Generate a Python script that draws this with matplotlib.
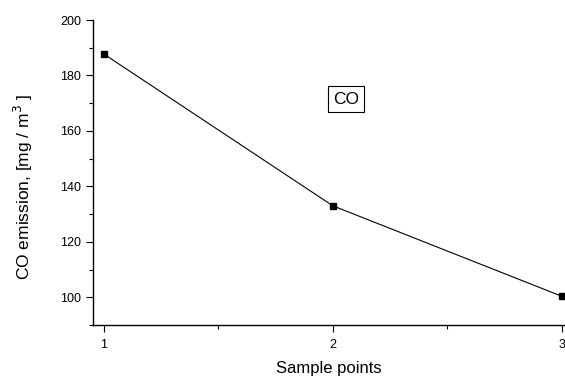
import matplotlib
matplotlib.use("Agg")
import matplotlib.pyplot as plt
from matplotlib.ticker import MultipleLocator

plt.rcParams['font.family'] = ['Liberation Sans', 'DejaVu Sans']

samples = [1, 2, 3]
co_emission = [187.7, 133.0, 100.4]

fig = plt.figure(figsize=(5.65, 3.76), dpi=100)
ax = fig.add_axes([0.1646, 0.1356, 0.8354, 0.8112])

ax.plot(samples, co_emission, color="black", lw=0.8, marker="s", ms=4)

ax.set_xlim(0.952, 3.015)
ax.set_ylim(90, 200)
ax.xaxis.set_major_locator(MultipleLocator(1))
ax.xaxis.set_minor_locator(MultipleLocator(0.5))
ax.yaxis.set_major_locator(MultipleLocator(20))
ax.yaxis.set_minor_locator(MultipleLocator(10))
ax.set_yticks(range(100, 201, 20))
ax.tick_params(which="major", direction="out", length=5, width=0.8, labelsize=9)
ax.tick_params(axis="x", which="major", pad=5)
ax.tick_params(which="minor", direction="out", length=3, width=0.8)
for s in ("top", "right"):
    ax.spines[s].set_visible(False)
for s in ("left", "bottom"):
    ax.spines[s].set_linewidth(1.0)
ax.spines["left"].set_bounds(90, 200)

ax.set_xlabel("Sample points", fontsize=12)
ax.set_ylabel("CO emission, [mg / m$^3$ ]", fontsize=12.5)
ax.xaxis.set_label_coords(0.5, -0.118)
ax.yaxis.set_label_coords(-0.148, 0.452)
ax.yaxis.label.set_va("center")

ax.text(2.057, 171.5, "CO", fontsize=12.5, ha="center", va="center",
        bbox=dict(boxstyle="square,pad=0.3", fc="white", ec="black", lw=0.8))

fig.savefig("out.png", dpi=100)
